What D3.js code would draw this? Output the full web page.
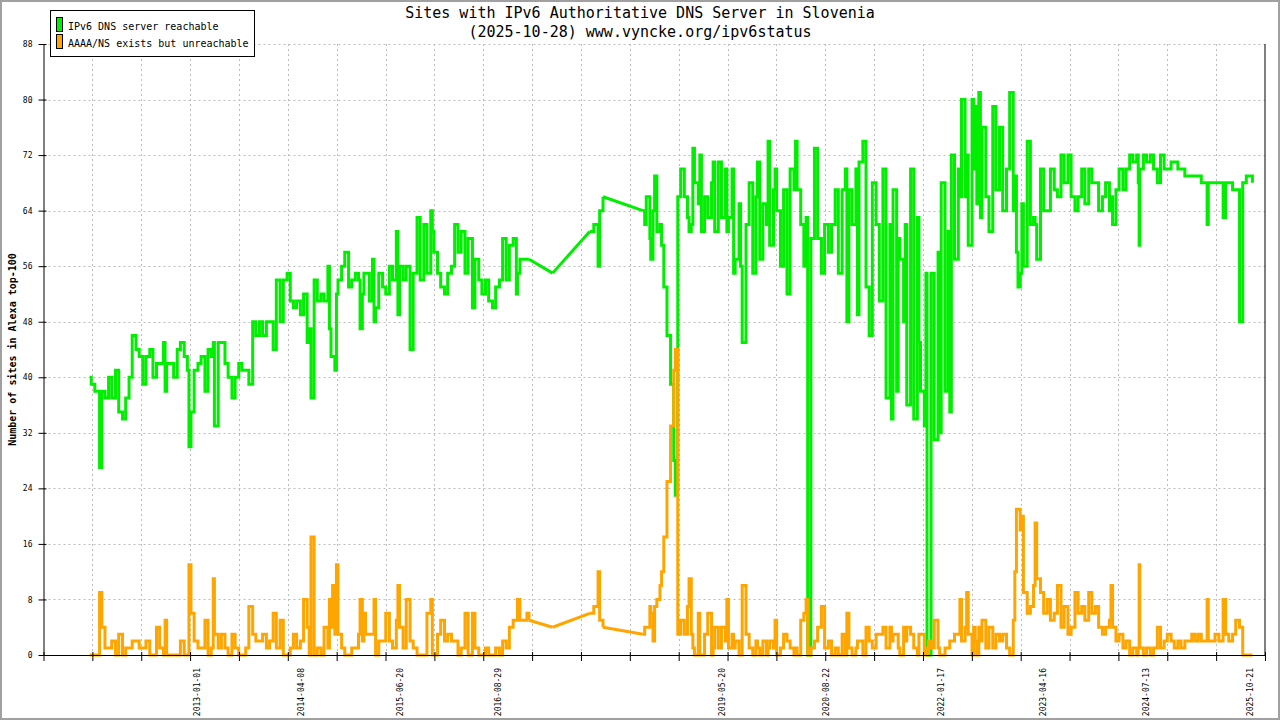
<!DOCTYPE html>
<html>
<head>
<meta charset="utf-8">
<title>IPv6 DNS Slovenia</title>
<script src="https://cdn.jsdelivr.net/npm/d3@7"></script>
<style>
  body{margin:0;background:#fff;}
  svg{display:block;}
</style>
</head>
<body>
<div class="canva"></div>
<script>
// sample dates (roughly twice a month, extra points on spikes)
const dates=[
  "2011-09-08","2011-09-15","2011-10-01","2011-10-15","2011-10-22","2011-11-01","2011-11-15","2011-12-01","2011-12-15",
  "2012-01-01","2012-01-15","2012-02-01","2012-02-15","2012-03-01","2012-03-15","2012-04-01","2012-04-15","2012-05-01","2012-05-15",
  "2012-06-01","2012-06-15","2012-07-01","2012-07-15","2012-08-01","2012-08-08","2012-08-15","2012-09-01","2012-09-15","2012-10-01",
  "2012-10-15","2012-11-01","2012-11-15","2012-11-22","2012-12-01","2012-12-15",
  "2013-01-01","2013-01-15","2013-02-01","2013-02-15","2013-03-01","2013-03-10","2013-03-15","2013-04-01","2013-04-15","2013-05-01",
  "2013-05-15","2013-06-01","2013-06-15","2013-07-01","2013-07-15","2013-08-01","2013-08-15","2013-09-01","2013-09-15","2013-10-01",
  "2013-10-15","2013-11-01","2013-11-15","2013-12-01","2013-12-15",
  "2014-01-01","2014-01-15","2014-02-01","2014-02-15","2014-03-01","2014-03-15","2014-04-01","2014-04-15","2014-05-01","2014-05-10",
  "2014-05-18","2014-06-01","2014-06-15","2014-07-01","2014-07-15","2014-08-01","2014-08-08","2014-08-15","2014-08-22","2014-09-01",
  "2014-09-08","2014-09-15","2014-10-01","2014-10-15","2014-11-01","2014-11-15","2014-12-01","2014-12-15","2014-12-22",
  "2015-01-01","2015-01-08","2015-01-15","2015-02-01","2015-02-15","2015-02-22","2015-03-01","2015-03-15","2015-04-01","2015-04-15",
  "2015-05-01","2015-05-15","2015-06-01","2015-06-08","2015-06-15","2015-07-01","2015-07-15","2015-08-01","2015-08-15","2015-09-01",
  "2015-09-15","2015-10-01","2015-10-15","2015-11-01","2015-11-08","2015-11-15","2015-12-01","2015-12-15",
  "2016-01-01","2016-01-15","2016-02-01","2016-02-15","2016-03-01","2016-03-15","2016-04-01","2016-04-15","2016-05-04","2016-05-15",
  "2016-06-01","2016-06-15","2016-07-01","2016-07-15","2016-08-01","2016-08-15","2016-09-01","2016-09-15","2016-10-01","2016-10-15",
  "2016-11-01","2016-11-15","2016-11-20","2016-12-01","2016-12-15",
  "2017-01-01","2017-01-10","2017-04-25","2017-10-07","2017-10-25","2017-11-13","2017-11-20","2017-12-05",
  "2018-05-31","2018-06-08","2018-06-15","2018-07-01","2018-07-05","2018-07-15","2018-07-22","2018-08-01","2018-08-15","2018-08-22",
  "2018-09-01","2018-09-15","2018-10-01","2018-10-15","2018-10-22","2018-10-29","2018-11-02","2018-11-15","2018-12-01","2018-12-15",
  "2018-12-22",
  "2019-01-01","2019-01-08","2019-01-15","2019-02-01","2019-02-08","2019-02-15","2019-03-01","2019-03-15","2019-04-01","2019-04-08",
  "2019-04-15","2019-05-01","2019-05-15","2019-06-01","2019-06-08","2019-06-15","2019-07-01","2019-07-08","2019-07-15","2019-08-01",
  "2019-08-08","2019-08-15","2019-09-01","2019-09-15","2019-10-01","2019-10-15","2019-10-22","2019-11-01","2019-11-15","2019-12-01",
  "2019-12-08","2019-12-15",
  "2020-01-01","2020-01-08","2020-01-15","2020-02-01","2020-02-15","2020-03-01","2020-03-15","2020-04-01","2020-04-08","2020-04-15",
  "2020-05-01","2020-05-15","2020-05-25","2020-06-01","2020-06-12","2020-06-15","2020-07-01","2020-07-15","2020-08-01","2020-08-15",
  "2020-09-01","2020-09-15","2020-10-01","2020-10-15","2020-11-01","2020-11-15","2020-11-22","2020-12-01","2020-12-15",
  "2021-01-01","2021-01-08","2021-01-15","2021-02-01","2021-02-15","2021-03-01","2021-03-15","2021-04-01","2021-04-15","2021-05-01",
  "2021-05-15","2021-06-01","2021-06-08","2021-06-15","2021-07-01","2021-07-08","2021-07-15","2021-08-01","2021-08-08","2021-08-15",
  "2021-09-01","2021-09-15","2021-10-01","2021-10-08","2021-10-15","2021-11-01","2021-11-08","2021-11-13","2021-11-20","2021-12-01",
  "2021-12-15",
  "2022-01-01","2022-01-08","2022-01-15","2022-02-01","2022-02-15","2022-02-22","2022-03-01","2022-03-15","2022-04-01","2022-04-08",
  "2022-04-15","2022-05-01","2022-05-08","2022-05-15","2022-06-01","2022-06-08","2022-06-15","2022-06-22","2022-07-01","2022-07-08",
  "2022-07-15","2022-08-01","2022-08-15","2022-09-01","2022-09-15","2022-10-01","2022-10-15","2022-11-01","2022-11-15","2022-12-01",
  "2022-12-08","2022-12-15","2022-12-22",
  "2023-01-01","2023-01-08","2023-01-15","2023-02-01","2023-02-15","2023-03-01","2023-03-08","2023-03-15","2023-04-01","2023-04-15",
  "2023-05-01","2023-05-15","2023-06-01","2023-06-15","2023-07-01","2023-07-15","2023-08-01","2023-08-15","2023-09-01","2023-09-15",
  "2023-10-01","2023-10-15","2023-11-01","2023-11-15","2023-12-01","2023-12-15",
  "2024-01-01","2024-01-15","2024-02-01","2024-02-08","2024-02-15","2024-03-01","2024-03-15","2024-04-01","2024-04-15","2024-05-01",
  "2024-05-15","2024-06-01","2024-06-08","2024-06-12","2024-06-15","2024-07-01","2024-07-15","2024-08-01","2024-08-15","2024-09-01",
  "2024-09-15","2024-10-01","2024-10-15","2024-11-01","2024-11-15","2024-12-01","2024-12-15",
  "2025-01-01","2025-01-15","2025-02-01","2025-02-15","2025-03-01","2025-03-15","2025-04-01","2025-04-10","2025-04-15","2025-05-01",
  "2025-05-15","2025-06-01","2025-06-15","2025-06-20","2025-07-01","2025-07-15","2025-08-01","2025-08-15","2025-09-01","2025-09-15",
  "2025-10-01","2025-10-15","2025-10-28"
];

// IPv6 DNS server reachable
const reachable=[
  40,39,38,38,27,38,37,40,37,
  41,35,34,37,40,46,44,43,39,43, 44,40,42,42,45,38,42,42,40,44, 45,43,41,30,35,41,
  42,43,38,44,43,45,33,45,45,42, 40,37,40,42,41,41,39,48,46,48, 46,48,48,44,54,
  48,54,55,51,50,51,49,52,45,47, 37,54,51,52,51,56,47,43,43,41, 52,54,56,58,53,54,55,54,47,
  52,55,55,51,57,48,50,55,53,52, 56,54,61,49,56,54,56,44,55,63, 54,62,55,64,61,58,55,53,
  52,55,56,62,58,61,55,60,50,57, 54,52,54,51,50,53,54,60,54,59, 60,52,55,57,57,
  57,57,55,61,62,56,64,66,
  64,62,66,60,57,64,69,61,62,59, 53,46,39,28,23,24,66,70,66,63, 61,
  62,73,68,65,72,61,66,63,68,71, 61,71,63,70,61,63,70,55,57,65, 56,45,62,68,55,66,71,57,65,62, 74,59,
  67,70,64,56,67,52,70,67,74,67, 62,56,63,0,0,60,73,60,55,62, 58,62,67,55,67,70,48,67,62,
  70,49,71,74,53,46,68,62,51,70, 37,62,34,67,38,60,57,48,62,36, 70,34,63,45,38,33,55,0,0,55, 31,
  58,32,68,38,61,35,72,57,70,66, 80,66,72,59,80,70,79,65,81,63, 76,66,61,79,67,76,64,70,81,64, 69,58,53,
  55,65,56,74,62,63,62,57,70,64, 64,70,67,66,72,68,72,66,64,66, 70,65,70,68,68,64,
  66,68,64,66,62,67,70,67,70,72, 71,72,68,59,70,72,71,72,70,68, 72,70,70,71,71,70,70,
  69,69,69,69,69,68,68,62,68,68, 68,68,68,63,68,68,67,67,48,68, 69,69,68
];

// AAAA/NS exists but unreachable
const unreachable=[
  0,0,0,0,9,4,1,1,2,
  0,3,0,1,1,2,2,1,1,2, 0,0,4,1,0,5,0,0,0,0, 2,0,0,13,6,2,
  1,1,5,0,1,11,3,1,3,1, 0,3,1,0,0,1,7,3,2,2, 3,1,2,6,1,
  5,0,0,1,3,1,2,8,4,0, 17,0,1,0,4,1,8,4,10,3, 13,3,1,0,0,1,1,3,8,
  2,6,3,3,3,8,0,2,2,6, 2,1,5,10,4,1,8,2,1,0, 0,0,6,8,0,0,3,5,
  2,3,2,2,0,1,6,0,6,1, 0,0,1,0,0,1,0,2,1,4, 5,5,8,5,5,
  6,5,4,6,7,12,5,4,
  3,4,4,7,6,2,7,8,10,12, 17,25,33,41,44,44,3,5,3,7, 11,
  3,1,0,6,0,0,3,6,0,1, 4,1,4,2,8,1,3,1,2,0, 0,10,3,1,0,2,1,0,2,0, 1,2,
  1,5,0,1,3,2,1,0,1,0, 5,6,8,0,0,1,2,4,7,1, 2,0,1,0,3,0,6,1,0,
  1,2,2,0,4,2,1,3,3,4, 1,4,2,3,3,1,0,4,2,4, 3,1,0,3,3,0,1,0,2,1, 5,
  1,0,0,1,1,2,2,3,3,8, 2,4,9,3,0,4,2,0,4,2, 5,1,4,1,3,2,3,1,0,5, 12,21,21,
  18,20,9,6,7,10,19,11,9,6, 8,5,6,10,4,7,3,4,9,6, 7,5,9,6,7,4,
  3,4,5,10,4,2,3,1,2,0, 1,0,1,13,1,0,1,0,1,4, 1,2,3,2,1,2,1,
  2,2,3,2,3,2,2,8,2,2, 3,2,2,8,3,2,3,5,4,0, 0,0,0
];

const seriesNames=["IPv6 DNS server reachable","AAAA/NS exists but unreachable"];
const seriesColors=["#00ee00","#ffa500"];

// tick labels under the x axis
const dateLabels=["2013-01-01","2014-04-08","2015-06-20","2016-08-29","2019-05-20",
                  "2020-08-22","2022-01-17","2023-04-16","2024-07-13","2025-10-21"];
const yTicks=[0,8,16,24,32,40,48,56,64,72,80,88];

const titleLines=["Sites with IPv6 Authoritative DNS Server in Slovenia",
                  "(2025-10-28) www.vyncke.org/ipv6status"];
const yTitle="Number of sites in Alexa top-100";

// x domain and the plain (unlabelled) major tick step
const xStart="2011-02-15", xEnd="2025-12-23";
const majorTickDays=217;
// samples further apart than this are joined by a straight line, not a step
const gapDays=40;

const W=1280, H=720;
const plotL=43.5, plotR=1265, plotT=44, plotB=655;
const mono="'DejaVu Sans Mono', 'Liberation Mono', monospace";

const parseDate=d3.timeParse("%Y-%m-%d");
const points=dates.map((d,i)=>({date:parseDate(d), g:reachable[i], o:unreachable[i]}));

const x=d3.scaleTime().domain([parseDate(xStart),parseDate(xEnd)]).range([plotL,plotR]);
const y=d3.scaleLinear().domain([0,88]).range([plotB,plotT]);

const majorTicks=d3.range(0,26).map(i=>d3.timeDay.offset(parseDate(xStart),i*majorTickDays));

// split into dense runs (drawn as steps) and long gaps (drawn straight)
const runs=[];
let cur=[points[0]];
for(let i=1;i<points.length;i++){
  const gap=(points[i].date-points[i-1].date)/864e5;
  if(gap>gapDays){
    runs.push({pts:cur,step:true});
    runs.push({pts:[points[i-1],points[i]],step:false});
    cur=[points[i]];
  }else{
    cur.push(points[i]);
  }
}
runs.push({pts:cur,step:true});

const canvas=d3.select(".canva");
const svg=canvas.append("svg")
  .attr("width",W)
  .attr("height",H);

svg.append("rect")
  .attr("width",W).attr("height",H).attr("fill","#fff");

// outer gray frame
svg.append("rect")
  .attr("x",1).attr("y",1).attr("width",W-2).attr("height",H-2)
  .attr("fill","none").attr("stroke","#a0a0a0").attr("stroke-width",2);

// grid
const grid=svg.append("g")
  .attr("stroke","#bdbdbd").attr("stroke-width",1).attr("stroke-dasharray","2,3");

grid.selectAll(".hgrid")
  .data(yTicks.filter(v=>v>0))
  .enter().append("line")
  .attr("x1",plotL).attr("x2",plotR)
  .attr("y1",d=>Math.round(y(d))+0.5).attr("y2",d=>Math.round(y(d))+0.5);

grid.selectAll(".vgrid")
  .data(majorTicks.slice(1,-1))
  .enter().append("line")
  .attr("x1",d=>Math.round(x(d))+0.5).attr("x2",d=>Math.round(x(d))+0.5)
  .attr("y1",plotT).attr("y2",plotB);

// the two series
function drawSeries(key,color){
  const g=svg.append("g")
    .attr("fill","none")
    .attr("stroke",color)
    .attr("stroke-width",3)
    .attr("stroke-linejoin","miter");
  g.selectAll("path")
    .data(runs)
    .enter().append("path")
    .attr("d",r=>d3.line()
      .curve(r.step?d3.curveStepAfter:d3.curveLinear)
      .x(d=>x(d.date))
      .y(d=>y(d[key]))(r.pts));
}
drawSeries("g",seriesColors[0]);
drawSeries("o",seriesColors[1]);

// axes
const yAxis=svg.append("g")
  .attr("transform",`translate(${plotL},0)`)
  .call(d3.axisLeft(y).tickValues(yTicks).tickSizeInner(5).tickSizeOuter(0).tickPadding(6));
yAxis.attr("font-family",mono).attr("font-size",8);
yAxis.selectAll(".tick line").attr("x1",3).attr("stroke","#000");
yAxis.select(".domain").attr("stroke","#000");
yAxis.selectAll("text").attr("fill","#000");

const xAxis=svg.append("g")
  .attr("transform",`translate(0,${plotB})`)
  .call(d3.axisBottom(x).tickValues(majorTicks).tickFormat("").tickSizeInner(6).tickSizeOuter(0));
xAxis.selectAll(".tick line").attr("y1",-3).attr("stroke","#000");
xAxis.select(".domain").attr("stroke","#000");

// right border
svg.append("line")
  .attr("x1",plotR).attr("x2",plotR).attr("y1",plotT).attr("y2",plotB)
  .attr("stroke","#000");

// rotated date labels
svg.selectAll(".xlab")
  .data(dateLabels)
  .enter().append("text")
  .attr("transform",d=>`translate(${x(parseDate(d))},668) rotate(-90)`)
  .attr("text-anchor","end")
  .attr("dominant-baseline","central")
  .attr("font-family",mono)
  .attr("font-size",8)
  .text(d=>d);

// titles
svg.selectAll(".title")
  .data(titleLines)
  .enter().append("text")
  .attr("x",640)
  .attr("y",(d,i)=>18+i*19)
  .attr("text-anchor","middle")
  .attr("font-family",mono)
  .attr("font-size",15)
  .text(d=>d);

svg.append("text")
  .attr("transform",`translate(16,${(plotT+plotB)/2}) rotate(-90)`)
  .attr("text-anchor","middle")
  .attr("font-family",mono)
  .attr("font-size",10)
  .attr("font-weight","bold")
  .text(yTitle);

// legend
const legend=svg.append("g");
legend.append("rect")
  .attr("x",50.5).attr("y",10.5).attr("width",204).attr("height",46)
  .attr("fill","#fff").attr("stroke","#000");

const item=legend.selectAll(".item")
  .data(seriesNames)
  .enter().append("g")
  .attr("transform",(d,i)=>`translate(0,${i*17})`);

item.append("rect")
  .attr("x",56.5).attr("y",17.5).attr("width",6).attr("height",14)
  .attr("fill",(d,i)=>seriesColors[i]).attr("stroke","#000");

item.append("text")
  .attr("x",68).attr("y",29.5)
  .attr("font-family",mono)
  .attr("font-size",10)
  .text(d=>d);
</script>
</body>
</html>
